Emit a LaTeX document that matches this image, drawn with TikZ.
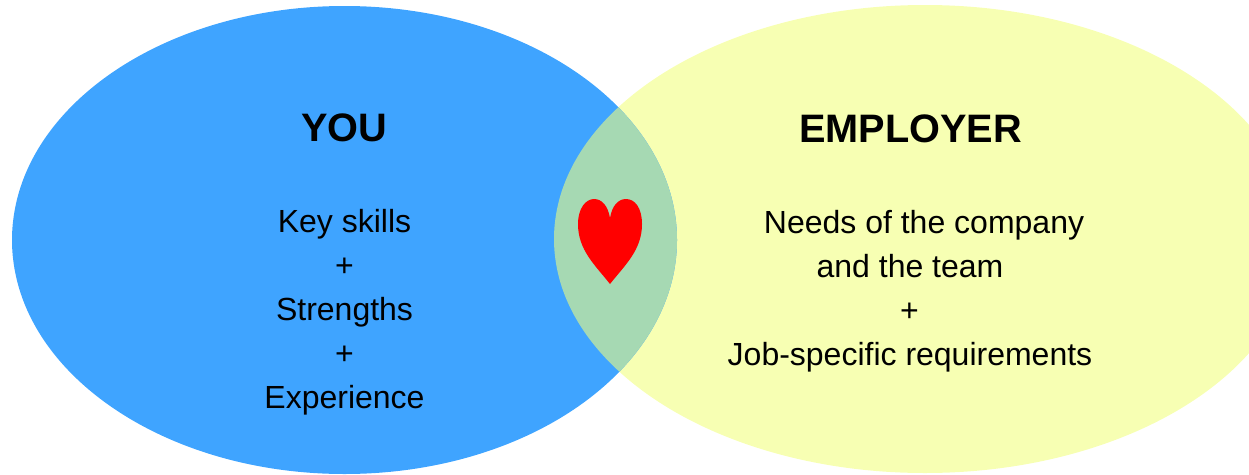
\documentclass[tikz,border=0pt]{standalone}
\usepackage{fontspec}
\setmainfont{Liberation Sans}
\usetikzlibrary{positioning}
\definecolor{youblue}{HTML}{3FA4FF}
\definecolor{empyellow}{HTML}{F7FFB3}
\definecolor{overlapgreen}{HTML}{A6D9B3}
\tikzset{
  title/.style={font=\fontsize{39.7}{46}\selectfont\bfseries, inner sep=0pt, anchor=base},
  body/.style={font=\fontsize{32}{38}\selectfont, inner sep=0pt, anchor=base},
}
\begin{document}
\begin{tikzpicture}[x=1pt,y=-1pt]
\useasboundingbox (0,0) rectangle (1249,474);
\fill[empyellow] (925,239) ellipse (371 and 234);
\fill[youblue] (344.5,240) ellipse (332.5 and 234);
\begin{scope}
\clip (925,239) ellipse (371 and 234);
\fill[overlapgreen] (344.5,240) ellipse (332.5 and 234);
\end{scope}
\fill[red] (610,284) .. controls (595,265) and (578,250) .. (578,224) .. controls (578,208) and (586,199) .. (594,199) .. controls (602,199) and (608,206) .. (610,218) .. controls (612,206) and (618,199) .. (626,199) .. controls (635,199) and (642,208) .. (642,224) .. controls (642,250) and (625,265) .. (610,284) -- cycle;
\node[title] (you) at (344.5,141.5) {YOU};
\node[title] (employer) at (910.5,142.5) {EMPLOYER};
\node[body] (skills) at (344.5,232) {Key skills};
\node[body] (plusa) at (344.5,276) {+};
\node[body] (strengths) at (344.5,320) {Strengths};
\node[body] (plusb) at (344.5,364) {+};
\node[body] (experience) at (344.5,408) {Experience};
\node[body] (needs) at (924,233) {Needs of the company};
\node[body] (team) at (910,277) {and the team};
\node[body] (plusc) at (909.5,321) {+};
\node[body] (job) at (910,365) {Job-specific requirements};
\end{tikzpicture}
\end{document}
